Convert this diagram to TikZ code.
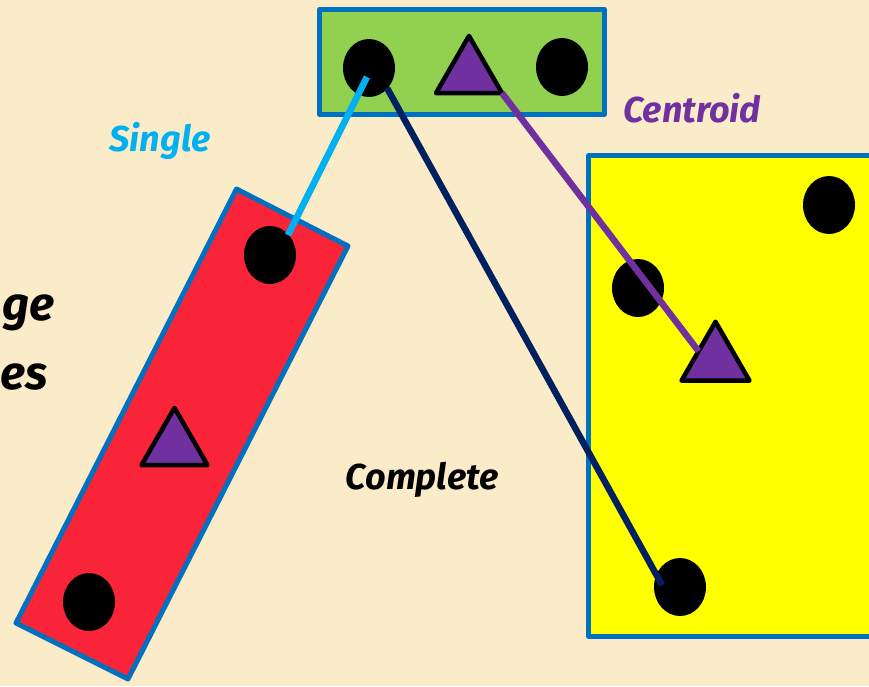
\documentclass[tikz,border=0pt]{standalone}
\usepackage{fontspec}
\setmainfont{Fira Sans}
\usetikzlibrary{shapes.geometric,calc}
\definecolor{bgcream}{HTML}{FBECC9}
\definecolor{boxblue}{HTML}{0070C0}
\definecolor{boxgreen}{HTML}{92D050}
\definecolor{boxred}{HTML}{F92438}
\definecolor{boxyellow}{HTML}{FFFF00}
\definecolor{linkcyan}{HTML}{00B0F0}
\definecolor{linknavy}{HTML}{002060}
\definecolor{linkpurple}{HTML}{7030A0}
\tikzset{
  clusterbox/.style={draw=boxblue, line width=5pt, line join=round},
  pt/.style={shape=ellipse, fill=black, minimum width=52pt, minimum height=58pt, inner sep=0pt, outer sep=0pt},
  cent/.style={regular polygon, regular polygon sides=3, draw=black, fill=linkpurple, line width=4.5pt, line join=round, inner sep=0pt, outer sep=0pt},
  link/.style={line width=6.5pt, preaction={draw=black, opacity=0.22, transform canvas={shift={(1.8pt,-1.8pt)}}}},
  lbl/.style={font=\fontsize{36}{36}\selectfont\bfseries\itshape, inner sep=0pt},
  biglbl/.style={font=\fontsize{47}{47}\selectfont\bfseries\itshape, inner sep=0pt, anchor=base west}
}
\begin{document}
\begin{tikzpicture}[x=1pt,y=-1pt]
\fill[bgcream] (0,0) rectangle (869,686);
\useasboundingbox (0,0) rectangle (869,686);

% left partial labels
\node[biglbl] (lblge) at (2,320) {ge};
\node[biglbl] (lbles) at (0,389) {es};

% green cluster
\draw[clusterbox, fill=boxgreen] (319.5,9.5) rectangle (604.5,114.5);
\node[pt] (g1) at (369,68) {};
\node[pt] (g2) at (562,67) {};
\node[cent, minimum size=76.2pt] (gt) at (469,74) {};

% red cluster
\draw[clusterbox, fill=boxred] (236.5,189) -- (348,246) -- (128,679) -- (16,623) -- cycle;
\node[pt] (r1) at (270,255) {};
\node[pt] (r2) at (89,602) {};
\node[cent, minimum size=76.2pt] (rt) at (174.5,446) {};

% yellow cluster
\draw[clusterbox, fill=boxyellow] (588.5,155.5) rectangle (885,636.5);
\node[pt] (y1) at (829,205) {};
\node[pt] (y2) at (638,288) {};
\node[pt] (y3) at (680,587) {};
\node[cent, minimum size=78.5pt] (yt) at (715.5,361) {};

% links
\draw[link, draw=linkcyan] ($(g1)+(-2,9)$) -- ($(r1)+(18,-20)$);
\draw[link, draw=linknavy] ($(g1)+(18,20)$) -- ($(y3)+(-18,-2)$);
\draw[link, draw=linkpurple] (gt.corner 3) -- (yt.side 1);

% labels
\node[lbl, text=linkcyan] (single) at (160,141) {Single};
\node[lbl, text=linkpurple] (centroid) at (692,108) {Centroid};
\node[lbl, text=black] (complete) at (422,480) {Complete};
\end{tikzpicture}
\end{document}
